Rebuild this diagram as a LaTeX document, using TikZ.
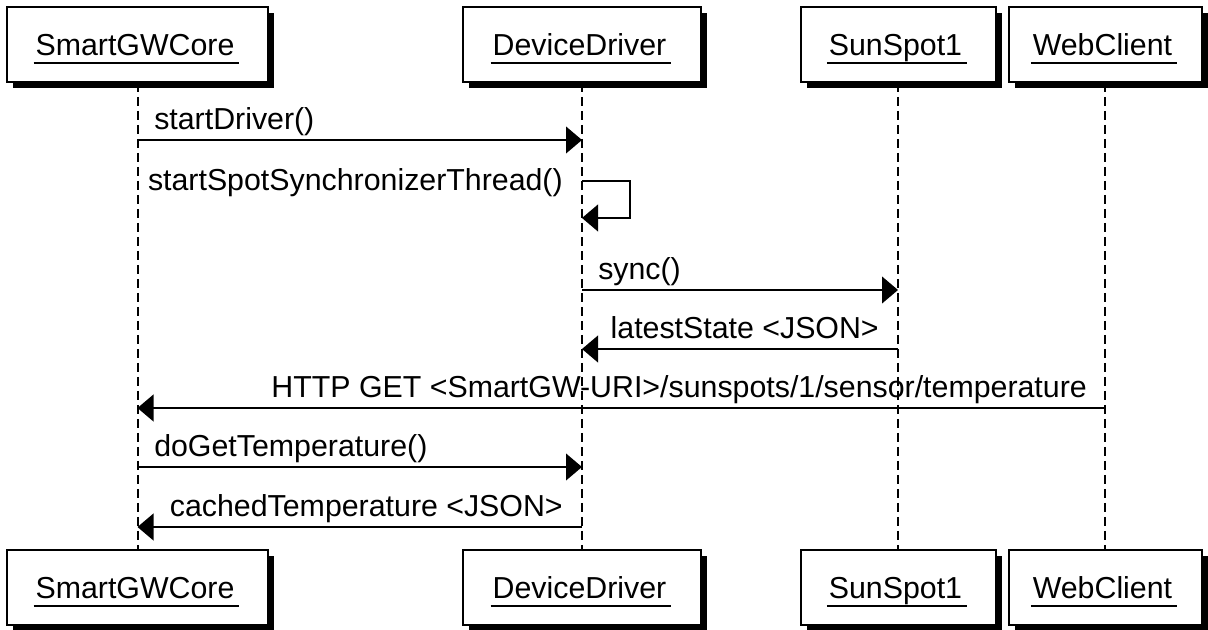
\documentclass[tikz,border=0pt]{standalone}
\usepackage{fontspec}
\setmainfont{Liberation Sans}
\usetikzlibrary{arrows.meta}
\usetikzlibrary{shadows}

% underlined object name, rule kept out of the box size
\newcommand{\objname}[1]{\setbox0\hbox{#1\,}\dp0=0pt\copy0\llap{\smash{\rule[-6.75pt]{\dimexpr\wd0+1.5pt\relax}{1.5pt}}}}

\begin{document}
\begin{tikzpicture}[x=0.75pt,y=0.75pt,yscale=-1,xscale=1,
  objbox/.style={draw, line width=1.5pt, fill=white, minimum height=56.25pt, inner sep=0pt,
    font=\fontsize{22.75}{27}\selectfont,
    drop shadow={shadow xshift=4.5pt, shadow yshift=-4.5pt, fill=black, opacity=1}},
  lifeline/.style={line width=1.5pt, dash pattern=on 6.5pt off 4pt},
  msg/.style={line width=1.5pt, -{Triangle[length=12pt,width=20pt]}},
  lbl/.style={font=\fontsize{22.75}{27}\selectfont, inner sep=0pt}]
\useasboundingbox (0,0) rectangle (1208,630);

%Shape: Objects top
\node[objbox, minimum width=195.75pt] (core) at (137.5,44.5) {\objname{SmartGWCore}};
\node[objbox, minimum width=178.5pt] (drv) at (582,44.5) {\objname{DeviceDriver}};
\node[objbox, minimum width=146.25pt] (spot) at (898,44.5) {\objname{SunSpot1}};
\node[objbox, minimum width=144.75pt] (web) at (1105,44.5) {\objname{WebClient}};
%Shape: Objects bottom
\node[objbox, minimum width=195.75pt] (coreB) at (137.5,587.5) {\objname{SmartGWCore}};
\node[objbox, minimum width=178.5pt] (drvB) at (582,587.5) {\objname{DeviceDriver}};
\node[objbox, minimum width=146.25pt] (spotB) at (898,587.5) {\objname{SunSpot1}};
\node[objbox, minimum width=144.75pt] (webB) at (1105,587.5) {\objname{WebClient}};

%Straight Lines: lifelines
\draw[lifeline] (core.south) -- (coreB.north);
\draw[lifeline] (drv.south) -- (drvB.north);
\draw[lifeline] (spot.south) -- (spotB.north);
\draw[lifeline] (web.south) -- (webB.north);

% message rows
\coordinate (r1) at (0,140);
\coordinate (r2) at (0,181);
\coordinate (r3) at (0,218);
\coordinate (r4) at (0,290);
\coordinate (r5) at (0,349);
\coordinate (r6) at (0,408);
\coordinate (r7) at (0,467);
\coordinate (r8) at (0,527);
\coordinate (loopA) at (630,181);
\coordinate (loopB) at (630,218);

%Straight Lines: messages
\draw[msg] (core |- r1) -- (drv |- r1);
\draw[msg] (drv |- r2) -- (loopA) -- (loopB) -- (drv |- r3);
\draw[msg] (drv |- r4) -- (spot |- r4);
\draw[msg] (spot |- r5) -- (drv |- r5);
\draw[msg] (web |- r6) -- (core |- r6);
\draw[msg] (core |- r7) -- (drv |- r7);
\draw[msg] (drv |- r8) -- (core |- r8);

% Text Node
\node[lbl, anchor=base west] (t1) at (154,130) {startDriver()};
% Text Node
\node[lbl, anchor=base east] (t2) at (563,191) {startSpotSynchronizerThread()};
% Text Node
\node[lbl, anchor=base west] (t3) at (598,280) {sync()};
% Text Node
\node[lbl, anchor=base east] (t4) at (879,339) {latestState <JSON>};
% Text Node
\node[lbl, anchor=base east] (t5) at (1087,398) {HTTP GET <SmartGW-URI>/sunspots/1/sensor/temperature};
% Text Node
\node[lbl, anchor=base west] (t6) at (154,457) {doGetTemperature()};
% Text Node
\node[lbl, anchor=base east] (t7) at (563,517) {cachedTemperature <JSON>};

\end{tikzpicture}
\end{document}
